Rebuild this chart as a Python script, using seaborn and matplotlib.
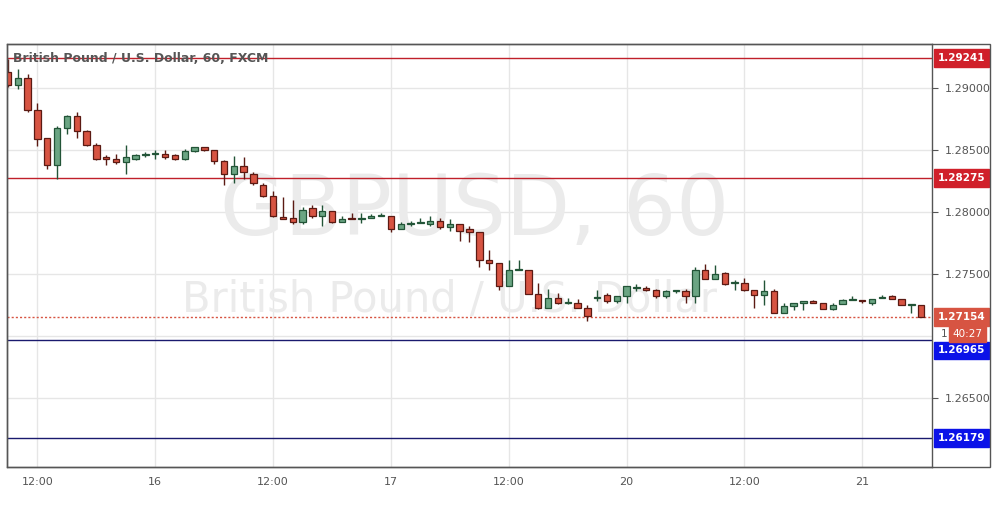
import matplotlib
matplotlib.use("Agg")
import matplotlib.pyplot as plt
import seaborn as sns
import numpy as np
import pandas as pd

opens = [1.2913,1.2902,1.2908,1.2882,1.2860,1.2838,1.2868,1.2877,1.2865,1.2854,1.2844,1.2843,1.2840,1.2843,1.2846,1.2847,1.2847,1.2846,1.2843,1.2849,
         1.2852,1.2850,1.2841,1.2831,1.2837,1.2831,1.2822,1.2813,1.2796,1.2795,1.2792,1.2803,1.2797,1.2801,1.2792,1.2795,1.2794,1.2795,1.2797,1.2797,
         1.2786,1.2790,1.2791,1.2790,1.2793,1.2788,1.2790,1.2786,1.2784,1.2761,1.2759,1.2740,1.2753,1.2753,1.2734,1.2723,1.2731,1.2727,1.2727,1.2723,
         1.2731,1.2733,1.2728,1.2732,1.2739,1.2739,1.2737,1.2732,1.2736,1.2736,1.2732,1.2753,1.2746,1.2751,1.2743,1.2743,1.2737,1.2733,1.2736,1.2719,
         1.2724,1.2727,1.2728,1.2727,1.2722,1.2726,1.2729,1.2729,1.2727,1.2731,1.2732,1.2730,1.2725,1.2725]
highs = [1.2923,1.2915,1.2911,1.2888,1.2860,1.2869,1.2878,1.2881,1.2866,1.2856,1.2846,1.2847,1.2854,1.2847,1.2848,1.2850,1.2850,1.2847,1.2851,1.2852,
         1.2852,1.2850,1.2842,1.2845,1.2844,1.2832,1.2823,1.2817,1.2812,1.2810,1.2804,1.2806,1.2806,1.2801,1.2797,1.2799,1.2799,1.2798,1.2799,1.2797,
         1.2792,1.2793,1.2795,1.2797,1.2795,1.2794,1.2790,1.2789,1.2784,1.2769,1.2759,1.2761,1.2761,1.2753,1.2743,1.2738,1.2735,1.2731,1.2730,1.2725,
         1.2737,1.2735,1.2732,1.2740,1.2742,1.2740,1.2738,1.2737,1.2737,1.2738,1.2756,1.2758,1.2757,1.2752,1.2745,1.2747,1.2737,1.2745,1.2738,1.2727,
         1.2727,1.2728,1.2729,1.2727,1.2727,1.2730,1.2732,1.2729,1.2730,1.2733,1.2733,1.2730,1.2725,1.2725]
lows = [1.2901,1.2899,1.2881,1.2853,1.2835,1.2827,1.2863,1.2860,1.2853,1.2842,1.2838,1.2839,1.2831,1.2842,1.2844,1.2843,1.2843,1.2842,1.2842,1.2848,
        1.2849,1.2839,1.2822,1.2823,1.2827,1.2822,1.2812,1.2796,1.2794,1.2790,1.2790,1.2795,1.2789,1.2791,1.2792,1.2794,1.2791,1.2795,1.2797,1.2784,
        1.2786,1.2789,1.2791,1.2789,1.2786,1.2785,1.2777,1.2776,1.2756,1.2753,1.2737,1.2740,1.2753,1.2734,1.2722,1.2723,1.2726,1.2726,1.2723,1.2712,
        1.2728,1.2727,1.2727,1.2727,1.2736,1.2736,1.2731,1.2731,1.2735,1.2727,1.2727,1.2746,1.2746,1.2741,1.2737,1.2736,1.2723,1.2725,1.2719,1.2719,
        1.2721,1.2721,1.2727,1.2722,1.2721,1.2726,1.2729,1.2727,1.2725,1.2731,1.2730,1.2725,1.2719,1.2716]
closes = [1.2902,1.2908,1.2882,1.2859,1.2838,1.2868,1.2877,1.2865,1.2854,1.2843,1.2843,1.2840,1.2844,1.2846,1.2846,1.2847,1.2844,1.2843,1.2849,1.2852,
          1.2850,1.2841,1.2831,1.2837,1.2832,1.2823,1.2813,1.2797,1.2794,1.2792,1.2802,1.2797,1.2801,1.2792,1.2794,1.2794,1.2795,1.2797,1.2797,1.2786,
          1.2790,1.2790,1.2791,1.2793,1.2788,1.2790,1.2785,1.2784,1.2761,1.2759,1.2740,1.2753,1.2753,1.2734,1.2723,1.2731,1.2727,1.2727,1.2723,1.2716,
          1.2731,1.2728,1.2732,1.2740,1.2739,1.2737,1.2732,1.2736,1.2736,1.2732,1.2753,1.2746,1.2750,1.2742,1.2743,1.2737,1.2733,1.2736,1.2719,1.2724,
          1.2727,1.2728,1.2727,1.2722,1.2725,1.2729,1.2729,1.2728,1.2730,1.2731,1.2730,1.2725,1.2725,1.2715]

x_tick_pos = [3, 15, 27, 39, 51, 63, 75, 87]
x_tick_labels = ["12:00", "16", "12:00", "17", "12:00", "20", "12:00", "21"]
y_ticks = [1.265, 1.275, 1.280, 1.285, 1.290]
red_levels = [1.29241, 1.28275]
blue_levels = [1.26965, 1.26179]
last_price = 1.27154
countdown = "40:27"

sns.set_style("white")
plt.rcParams['font.family'] = ['DejaVu Sans']

df = pd.DataFrame({"o": opens, "h": highs, "l": lows, "c": closes})
df["i"] = np.arange(len(df))
up = df["c"] >= df["o"]

fig = plt.figure(figsize=(9.95, 5.07), dpi=100)
ax = fig.add_axes([7/995, 40/507, 925/995, 423/507])
ax.set_xlim(-0.1, 94.1)
ax.set_ylim(1.25945, 1.29354)

for xv in x_tick_pos:
    ax.axvline(xv, color="#e6e6e6", lw=1, zorder=0)
for yv in y_ticks + [1.270]:
    ax.axhline(yv, color="#e6e6e6", lw=1, zorder=0)

ax.text(0.505, 0.605, "GBPUSD, 60", transform=ax.transAxes, ha="center", va="center",
        fontsize=60, color="#ebebeb", zorder=0.5)
ax.text(0.478, 0.395, "British Pound / U.S. Dollar", transform=ax.transAxes, ha="center", va="center",
        fontsize=30, color="#ebebeb", zorder=0.5)

for lv in red_levels:
    ax.axhline(lv, color="#c0202a", lw=1, zorder=1)
for lv in blue_levels:
    ax.axhline(lv, color="#1a1a6e", lw=1, zorder=1)
ax.axhline(last_price, color="#d75442", lw=1, ls=(0, (1.5, 1.5)), zorder=1)

for col_up, fill, edge in [(True, "#6ba583", "#225437"), (False, "#d75442", "#5b1a13")]:
    d = df[up == col_up]
    ax.vlines(d["i"], d["l"], d["h"], color=edge, lw=1, zorder=2)
    body = (d["c"] - d["o"]).abs().clip(lower=0.00008)
    ax.bar(d["i"], body, bottom=np.minimum(d["o"], d["c"]), width=0.65,
           color=fill, edgecolor=edge, linewidth=0.9, zorder=3)

ax.text(0.006, 0.965, "British Pound / U.S. Dollar, 60, FXCM", transform=ax.transAxes,
        fontsize=9, color="#555555", fontweight="bold", va="center")

ax.yaxis.tick_right()
ax.set_yticks(y_ticks)
ax.set_yticklabels([f"{v:.5f}" for v in y_ticks], fontsize=8, color="#555555")
ax.tick_params(axis="y", length=4, color="#555555", pad=5)
ax.set_xticks(x_tick_pos)
ax.set_xticklabels(x_tick_labels, fontsize=8, color="#555555")
ax.tick_params(axis="x", length=4, color="#555555")
for s in ax.spines.values():
    s.set_color("#555555")
    s.set_linewidth(1)

def box(y, text, color, dx=4, dy=0, fs=7.5, tc="white", bold=True, fill=True):
    bb = dict(boxstyle="square,pad=0.35", fc=color, ec=color) if fill else None
    ax.annotate(text, xy=(1.0, y), xycoords=("axes fraction", "data"), xytext=(dx, dy),
                textcoords="offset points", va="center", ha="left", fontsize=fs, color=tc,
                fontweight="bold" if bold else "normal", annotation_clip=False, bbox=bb)

for lv in red_levels:
    box(lv, f"{lv:.5f}", "#d0202a")
box(blue_levels[0], f"{blue_levels[0]:.5f}", "#0b12e8", dy=-7)
box(blue_levels[1], f"{blue_levels[1]:.5f}", "#0b12e8")
box(last_price, f"{last_price:.5f}", "#d75442")
box(1.27025, "1", None, dx=6, dy=-0.5, tc="#555555", bold=False, fill=False)
box(1.27025, countdown, "#d75442", dx=15, dy=-0.5, bold=False)

fig.add_artist(plt.Rectangle((7/995, 40/507), 983/995, 423/507, fill=False, ec="#555555", lw=1,
                             transform=fig.transFigure))
fig.savefig("out.png", dpi=100, facecolor="white")
